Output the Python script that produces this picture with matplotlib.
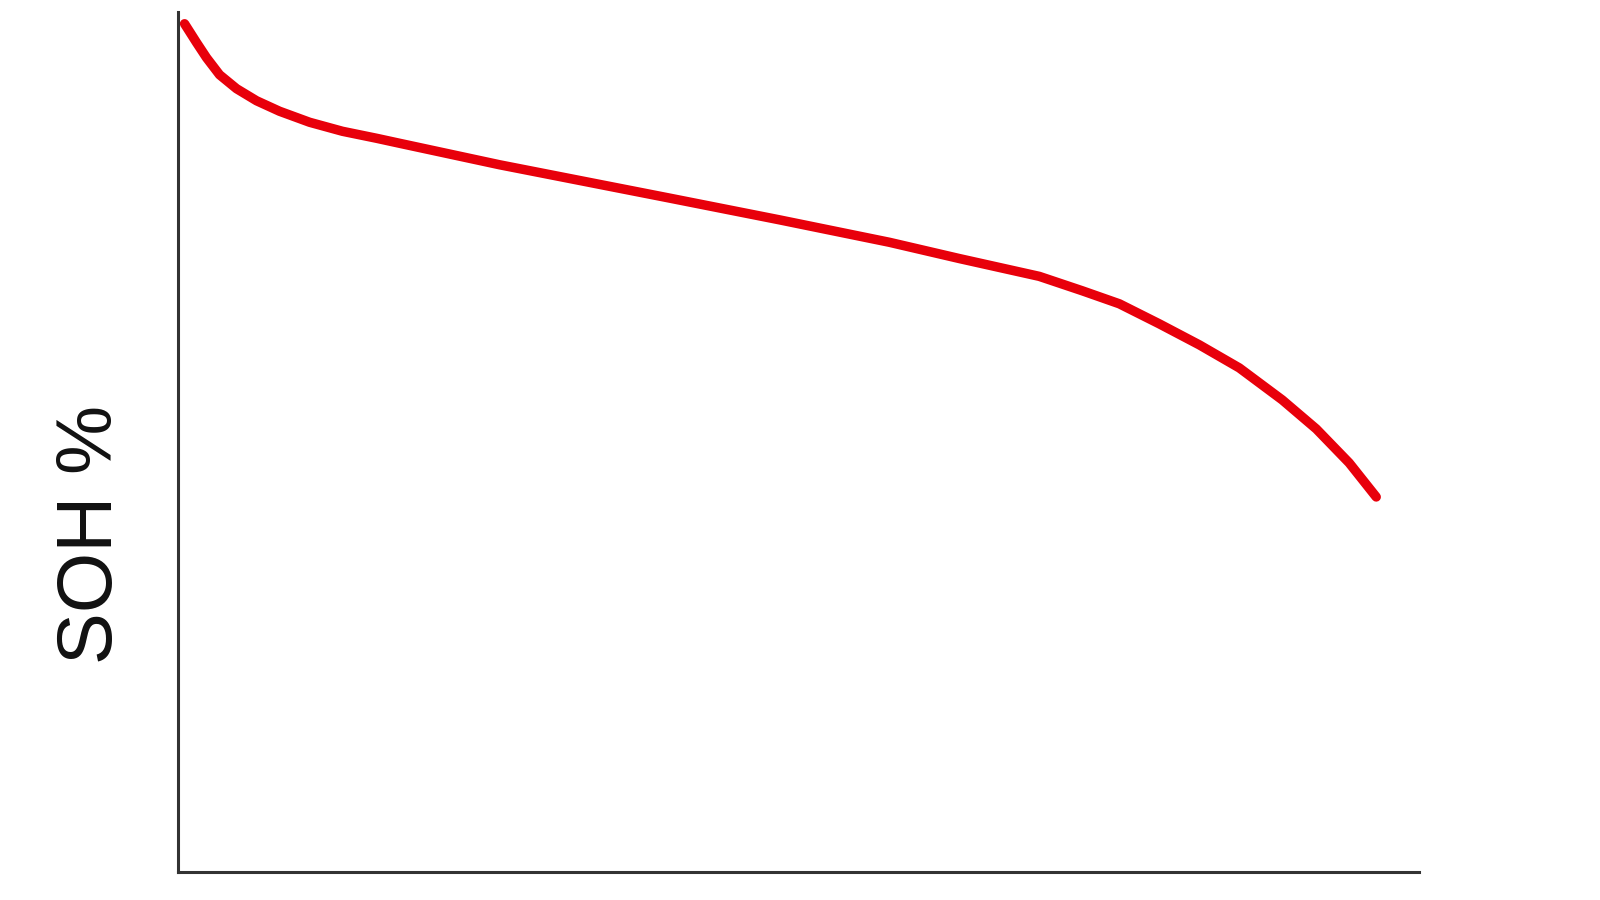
import matplotlib
matplotlib.use('Agg')
import matplotlib.pyplot as plt

# SOH curve (x: share of life, y: SOH in axis percent)
cycles = [0.56, 1.53, 2.33, 3.38, 4.75, 6.36, 8.21, 10.63, 13.28, 16.02,
          17.87, 25.93, 39.61, 48.47, 57.33, 62.96, 69.40, 72.87, 75.85,
          79.07, 82.29, 85.51, 88.97, 91.71, 94.36, 96.54]
soh = [98.60, 96.40, 94.65, 92.67, 91.05, 89.65, 88.43, 87.15, 86.10, 85.29,
       84.71, 82.21, 78.34, 75.81, 73.20, 71.31, 69.24, 67.56, 66.05,
       63.72, 61.28, 58.60, 54.88, 51.51, 47.56, 43.60]

plt.rcParams['font.family'] = ['Liberation Sans', 'DejaVu Sans']

fig = plt.figure(figsize=(16, 9), dpi=100)
ax = fig.add_axes([0.111, 0.031, 0.776, 0.956])

ax.plot(cycles, soh, color='#e8000b', lw=6.8, solid_capstyle='round',
        solid_joinstyle='round')

ax.set_xlim(0, 100)
ax.set_ylim(0, 100)
ax.set_xticks([])
ax.set_yticks([])
for side in ['top', 'right']:
    ax.spines[side].set_visible(False)
for side in ['left', 'bottom']:
    ax.spines[side].set_color('#333333')
    ax.spines[side].set_linewidth(2.2)

ax.set_ylabel('SOH %', fontsize=56, color='#111111', va='center')
ax.yaxis.set_label_coords(-0.069, 0.392)

fig.savefig('out.png', dpi=100, facecolor='white')
